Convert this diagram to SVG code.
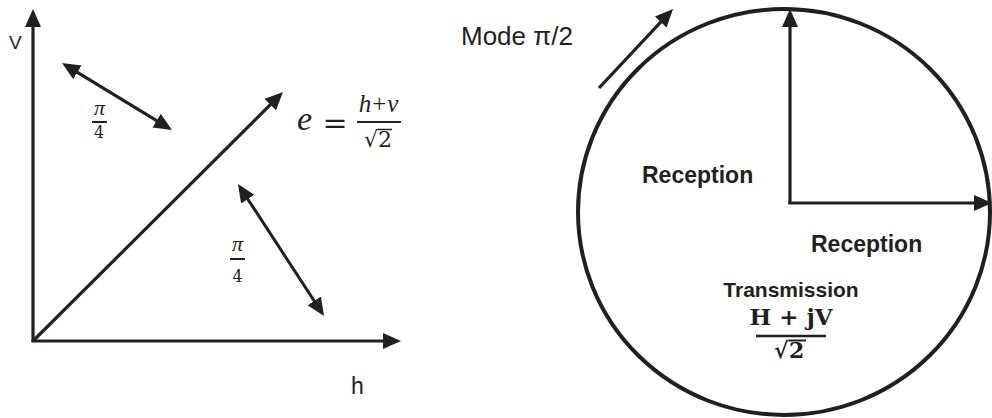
<svg xmlns="http://www.w3.org/2000/svg" width="992" height="418" viewBox="0 0 992 418">
<defs>
<marker id="ah" viewBox="0 0 18 16" markerWidth="18" markerHeight="16" refX="13" refY="8" orient="auto-start-reverse" markerUnits="userSpaceOnUse">
<path d="M0,0 L18,8 L0,16 z" fill="#231f20"/>
</marker>
<style>
.ar{stroke:#231f20;stroke-width:3.2;fill:none;marker-end:url(#ah)}
.dar{stroke:#231f20;stroke-width:3;fill:none;marker-end:url(#ah);marker-start:url(#ah)}
.bar{stroke:#231f20;stroke-width:2}
.sans{font-family:"Liberation Sans",Arial,sans-serif;fill:#231f20}
.bold{font-family:"Liberation Sans",Arial,sans-serif;font-weight:bold;fill:#231f20}
.math{font-family:"DejaVu Serif","Liberation Serif",serif;fill:#231f20}
.mi{font-family:"Liberation Serif","DejaVu Serif",serif;font-style:italic;fill:#231f20}
</style>
</defs>
<rect width="992" height="418" fill="#fff"/>
<g id="connectors">
<line class="ar" x1="33" y1="342" x2="33" y2="14"/>
<line class="ar" x1="31.5" y1="341" x2="396" y2="341"/>
<line class="ar" x1="33" y1="341" x2="279.5" y2="95.5"/>
<line class="dar" x1="66.3" y1="65.6" x2="167.7" y2="127.4"/>
<line class="dar" x1="240.7" y1="188.2" x2="321.3" y2="311.8"/>
<line class="ar" x1="599" y1="88" x2="669.6" y2="12.6"/>
<line class="ar" x1="790" y1="204" x2="790" y2="14"/>
<line class="ar" x1="788.4" y1="203" x2="987" y2="203"/>
</g>
<g id="circle">
<ellipse cx="784" cy="212" rx="206" ry="203" stroke="#231f20" stroke-width="4" fill="none"/>
</g>
<g id="label-v"><text class="sans" x="9" y="49" font-size="19">V</text></g>
<g id="label-h"><text class="sans" x="351" y="394" font-size="23">h</text></g>
<g id="label-pi4-a">
<text class="mi" x="99.5" y="115" font-size="22" text-anchor="middle">π</text>
<line class="bar" x1="92" y1="122" x2="107" y2="122"/>
<text class="math" x="99" y="137.5" font-size="16" text-anchor="middle">4</text>
</g>
<g id="label-pi4-b">
<text class="mi" x="237.5" y="250.5" font-size="22" text-anchor="middle">π</text>
<line class="bar" x1="230" y1="259" x2="245" y2="259"/>
<text class="math" x="237.5" y="282" font-size="16" text-anchor="middle">4</text>
</g>
<g id="label-e">
<text class="mi" x="297" y="130" font-size="34">e</text>
<text class="math" x="335" y="133" font-size="30" text-anchor="middle">=</text>
<text class="mi" x="378.5" y="112" font-size="25" text-anchor="middle">h<tspan font-style="normal" dx="1">+</tspan><tspan dx="1">v</tspan></text>
<line class="bar" x1="357" y1="122" x2="401" y2="122"/>
<text class="math" x="364" y="147" font-size="22">√</text>
<text class="math" x="378" y="147" font-size="22">2</text>
<line x1="377.5" y1="129.5" x2="392" y2="129.5" stroke="#231f20" stroke-width="1.5"/>
</g>
<g id="label-mode"><text class="sans" x="461" y="45" font-size="26">Mode π/2</text></g>
<g id="label-reception-1"><text class="bold" x="642" y="183" font-size="23">Reception</text></g>
<g id="label-reception-2"><text class="bold" x="811" y="252" font-size="23">Reception</text></g>
<g id="label-transmission">
<text class="bold" x="791" y="297" font-size="21" text-anchor="middle">Transmission</text>
<text class="math" x="791" y="325" font-size="23" font-weight="bold" text-anchor="middle">H + jV</text>
<line x1="756" y1="336" x2="826" y2="336" stroke="#231f20" stroke-width="2.5"/>
<text class="math" x="774" y="358" font-size="22" font-weight="bold">√</text>
<text class="math" x="789" y="358" font-size="22" font-weight="bold">2</text>
<line x1="788.5" y1="340.5" x2="806" y2="340.5" stroke="#231f20" stroke-width="2"/>
</g>
</svg>
